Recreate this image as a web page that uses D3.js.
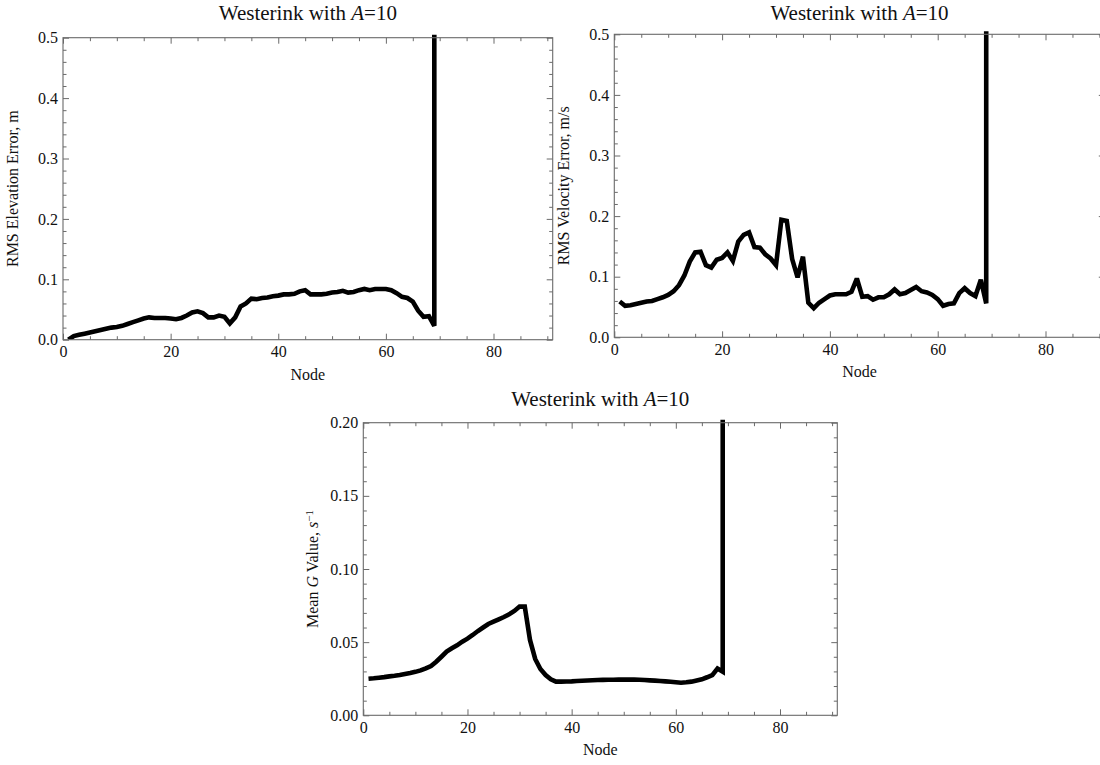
<!DOCTYPE html>
<html>
<head>
<meta charset="utf-8">
<script src="https://cdn.jsdelivr.net/npm/d3@7"></script>
<style>
  html, body { margin: 0; padding: 0; background: #fff; }
  svg { display: block; font-family: "Liberation Serif", "Times New Roman", serif; }
</style>
</head>
<body>
<svg id="chart" width="1100" height="765"></svg>
<script>
// Node numbers; the last entry repeats node 69 for the off-scale value there
const nodes = [1,2,3,4,5,6,7,8,9,10,11,12,13,14,15,16,17,18,19,20,
  21,22,23,24,25,26,27,28,29,30,31,32,33,34,35,36,37,38,39,40,
  41,42,43,44,45,46,47,48,49,50,51,52,53,54,55,56,57,58,59,60,
  61,62,63,64,65,66,67,68,69,69];

// RMS elevation error, m
const elevationError = [0.000,0.006,0.008,0.010,0.012,0.014,0.016,0.018,0.020,0.021,
  0.023,0.026,0.029,0.032,0.035,0.037,0.036,0.036,0.036,0.035,
  0.034,0.036,0.040,0.045,0.047,0.044,0.037,0.037,0.040,0.038,
  0.027,0.037,0.055,0.060,0.068,0.067,0.069,0.070,0.072,0.073,
  0.075,0.075,0.076,0.080,0.082,0.075,0.075,0.075,0.076,0.078,
  0.079,0.081,0.078,0.079,0.082,0.084,0.082,0.084,0.084,0.084,
  0.082,0.077,0.071,0.069,0.063,0.048,0.038,0.039,0.023,1.0];

// RMS velocity error, m/s
const velocityError = [0.059,0.052,0.053,0.055,0.057,0.059,0.060,0.063,0.066,0.070,
  0.076,0.086,0.102,0.125,0.140,0.141,0.119,0.115,0.128,0.131,
  0.140,0.126,0.158,0.169,0.173,0.149,0.148,0.137,0.130,0.119,
  0.194,0.192,0.129,0.099,0.133,0.057,0.048,0.057,0.063,0.069,
  0.071,0.071,0.071,0.075,0.097,0.067,0.068,0.062,0.066,0.066,
  0.071,0.079,0.071,0.073,0.078,0.083,0.076,0.074,0.070,0.063,
  0.052,0.055,0.056,0.073,0.081,0.073,0.068,0.095,0.056,1.0];

// Mean G value, 1/s
const meanG = [0.0250,0.0253,0.0257,0.0261,0.0266,0.0270,0.0275,0.0282,0.0289,0.0297,
  0.0307,0.0321,0.0337,0.0366,0.0400,0.0435,0.0458,0.0478,0.0503,0.0524,
  0.0549,0.0576,0.0600,0.0624,0.0640,0.0656,0.0672,0.0690,0.0713,0.0743,
  0.0743,0.0515,0.0385,0.0316,0.0275,0.0246,0.0230,0.0230,0.0231,0.0232,
  0.0234,0.0236,0.0238,0.0240,0.0241,0.0242,0.0243,0.0243,0.0244,0.0244,
  0.0244,0.0244,0.0243,0.0241,0.0239,0.0237,0.0235,0.0232,0.0229,0.0226,
  0.0223,0.0226,0.0230,0.0238,0.0246,0.0260,0.0275,0.0320,0.0298,0.5];

const xMajorTicks = [0, 20, 40, 60, 80];
const xMinorTicks = [5, 10, 15, 25, 30, 35, 45, 50, 55, 65, 70, 75, 85, 90];
const errorTicks = [0, 0.1, 0.2, 0.3, 0.4, 0.5];
const errorTickLabels = ["0.0", "0.1", "0.2", "0.3", "0.4", "0.5"];
const errorMinorTicks = [0.02,0.04,0.06,0.08,0.12,0.14,0.16,0.18,0.22,0.24,0.26,0.28,
  0.32,0.34,0.36,0.38,0.42,0.44,0.46,0.48];
const gTicks = [0, 0.05, 0.10, 0.15, 0.20];
const gTickLabels = ["0.00", "0.05", "0.10", "0.15", "0.20"];
const gMinorTicks = [0.01,0.02,0.03,0.04,0.06,0.07,0.08,0.09,0.11,0.12,0.13,0.14,
  0.16,0.17,0.18,0.19];

const svg = d3.select("#chart");
const frameColor = "#6a6a6a";
const serif = "\"Liberation Serif\", \"Times New Roman\", serif";

const panels = [
  { id: "elev", values: elevationError, x0: 63, x1: 552.7, y0: 339.7, y1: 37.7, titleY: 20,
    yMax: 0.5, yTicks: errorTicks, yLabels: errorTickLabels, yMinor: errorMinorTicks,
    yTitle: [{t: "RMS Elevation Error, m"}] },
  { id: "vel", values: velocityError, x0: 614.3, x1: 1104.8, y0: 337.3, y1: 34.3, titleY: 19.5,
    yMax: 0.5, yTicks: errorTicks, yLabels: errorTickLabels, yMinor: errorMinorTicks,
    yTitle: [{t: "RMS Velocity Error, m/s"}] },
  { id: "g", values: meanG, x0: 363.3, x1: 837.3, y0: 715.3, y1: 422.7, titleY: 405.5,
    yMax: 0.2, yTicks: gTicks, yLabels: gTickLabels, yMinor: gMinorTicks,
    yTitle: [{t: "Mean "}, {t: "G", it: true}, {t: " Value, "}, {t: "s", it: true}, {t: "\u22121", sup: true}] }
];

panels.forEach(p => {
  const x = d3.scaleLinear().domain([0, 91]).range([p.x0, p.x1]);
  const y = d3.scaleLinear().domain([0, p.yMax]).range([p.y0, p.y1]);
  const g = svg.append("g");
  const w = p.x1 - p.x0, h = p.y0 - p.y1;

  // data line, clipped to the frame (a little headroom at the top)
  const clipId = "clip-" + p.id;
  svg.append("defs").append("clipPath").attr("id", clipId)
    .append("rect").attr("x", p.x0).attr("y", p.y1 - 3).attr("width", w).attr("height", h + 3);

  const line = d3.line().x((d, i) => x(nodes[i])).y(d => y(d));
  g.append("path")
    .datum(p.values)
    .attr("clip-path", `url(#${clipId})`)
    .attr("d", line)
    .attr("fill", "none")
    .attr("stroke", "#000")
    .attr("stroke-width", 4.6)
    .attr("stroke-linejoin", "miter")
    .attr("stroke-miterlimit", 3);

  const styleAxis = sel => {
    sel.select(".domain").remove();
    sel.selectAll(".tick line").attr("stroke", frameColor);
    sel.selectAll("text").attr("fill", "#111").style("font-size", "16px")
      .style("font-family", serif);
  };

  // bottom axis: major with labels, minor without
  g.append("g").attr("transform", `translate(0,${p.y0})`)
    .call(d3.axisBottom(x).tickValues(xMajorTicks).tickSize(-6).tickPadding(6).tickFormat(d3.format("d")))
    .call(styleAxis);
  g.append("g").attr("transform", `translate(0,${p.y0})`)
    .call(d3.axisBottom(x).tickValues(xMinorTicks).tickSize(-3.5).tickFormat(""))
    .call(styleAxis);
  // top axis mirrored, no labels
  g.append("g").attr("transform", `translate(0,${p.y1})`)
    .call(d3.axisTop(x).tickValues(xMajorTicks).tickSize(-6).tickFormat(""))
    .call(styleAxis);
  g.append("g").attr("transform", `translate(0,${p.y1})`)
    .call(d3.axisTop(x).tickValues(xMinorTicks).tickSize(-3.5).tickFormat(""))
    .call(styleAxis);

  // left axis
  g.append("g").attr("transform", `translate(${p.x0},0)`)
    .call(d3.axisLeft(y).tickValues(p.yTicks).tickSize(-6).tickPadding(5)
      .tickFormat((d, i) => p.yLabels[i]))
    .call(styleAxis);
  g.append("g").attr("transform", `translate(${p.x0},0)`)
    .call(d3.axisLeft(y).tickValues(p.yMinor).tickSize(-3.5).tickFormat(""))
    .call(styleAxis);
  // right axis mirrored
  g.append("g").attr("transform", `translate(${p.x1},0)`)
    .call(d3.axisRight(y).tickValues(p.yTicks).tickSize(-6).tickFormat(""))
    .call(styleAxis);
  g.append("g").attr("transform", `translate(${p.x1},0)`)
    .call(d3.axisRight(y).tickValues(p.yMinor).tickSize(-3.5).tickFormat(""))
    .call(styleAxis);

  // frame
  g.append("rect")
    .attr("x", p.x0).attr("y", p.y1).attr("width", w).attr("height", h)
    .attr("fill", "none").attr("stroke", frameColor).attr("stroke-width", 1.1);

  const cx = (p.x0 + p.x1) / 2;
  const cy = (p.y0 + p.y1) / 2;

  // title
  const title = g.append("text")
    .attr("x", cx).attr("y", p.titleY)
    .attr("text-anchor", "middle")
    .style("font-size", "21px").attr("fill", "#111");
  title.append("tspan").text("Westerink with ");
  title.append("tspan").style("font-style", "italic").text("A");
  title.append("tspan").text("=10");

  // x-axis title
  g.append("text")
    .attr("x", cx).attr("y", p.y0 + 40)
    .attr("text-anchor", "middle")
    .style("font-size", "16px").attr("fill", "#111")
    .text("Node");

  // y-axis title
  const yt = g.append("text")
    .attr("transform", `translate(${p.x0 - 45},${cy}) rotate(-90)`)
    .attr("text-anchor", "middle")
    .style("font-size", "16px").attr("fill", "#111");
  p.yTitle.forEach(part => {
    const ts = yt.append("tspan").text(part.t);
    if (part.it) ts.style("font-style", "italic");
    if (part.sup) ts.attr("dy", "-0.45em").style("font-size", "11px");
  });
});
</script>
</body>
</html>
